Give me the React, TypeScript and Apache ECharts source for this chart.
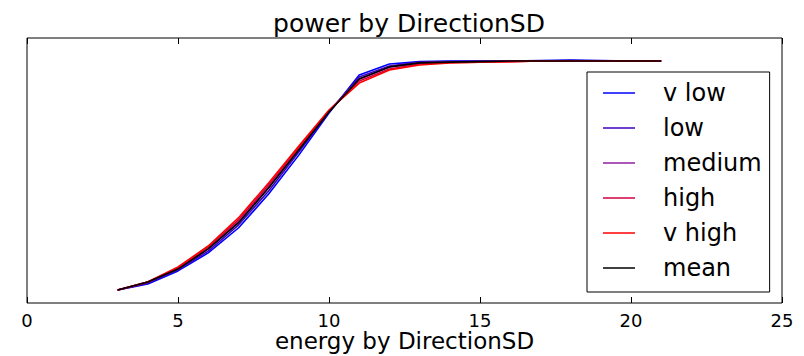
import React, { useEffect, useRef } from "react";
import * as echarts from "echarts";

const xValues = [3, 4, 5, 6, 7, 8, 9, 10, 11, 12, 13, 14, 15, 16, 17, 18, 19, 20, 21];
const seriesNames = ["v low", "low", "medium", "high", "v high", "mean"];
const seriesColors = ["#0000ff", "#3f00c0", "#9020a0", "#d00040", "#ff0000", "#000000"];

const vLow = [0.049, 0.072, 0.121, 0.189, 0.283, 0.411, 0.558, 0.717, 0.86, 0.902, 0.911, 0.913, 0.913, 0.913, 0.915, 0.917, 0.915, 0.913, 0.913];
const low = [0.049, 0.075, 0.125, 0.196, 0.294, 0.423, 0.57, 0.721, 0.853, 0.894, 0.909, 0.911, 0.913, 0.913, 0.913, 0.915, 0.913, 0.913, 0.913];
const medium = [0.049, 0.079, 0.128, 0.204, 0.306, 0.438, 0.581, 0.725, 0.845, 0.891, 0.906, 0.909, 0.911, 0.913, 0.913, 0.913, 0.913, 0.913, 0.913];
const high = [0.049, 0.079, 0.132, 0.211, 0.313, 0.445, 0.585, 0.725, 0.838, 0.883, 0.902, 0.908, 0.909, 0.911, 0.913, 0.913, 0.913, 0.913, 0.913];
const vHigh = [0.049, 0.079, 0.136, 0.215, 0.321, 0.453, 0.592, 0.728, 0.83, 0.879, 0.898, 0.906, 0.909, 0.911, 0.913, 0.913, 0.913, 0.913, 0.913];
const mean = [0.049, 0.079, 0.128, 0.204, 0.302, 0.434, 0.577, 0.721, 0.845, 0.891, 0.906, 0.909, 0.911, 0.913, 0.913, 0.913, 0.913, 0.913, 0.913];

const allValues = [vLow, low, medium, high, vHigh, mean];
const xTicks = { min: 0, max: 25, interval: 5 };

const FONT = "DejaVu Sans";
const LINE_ICON = "path://M0,0 L32,0 L32,1.5 L0,1.5 Z";

export default function App() {
  const ref = useRef<HTMLDivElement>(null);
  useEffect(() => {
    if (!ref.current) return;
    const chart = echarts.init(ref.current, undefined, { renderer: "svg" });
    const series = seriesNames.map((name, i) => ({
      name,
      type: "line",
      data: xValues.map((x, j) => [x, allValues[i][j]]),
      symbol: "none",
      showSymbol: false,
      lineStyle: { color: seriesColors[i], width: 1.6 },
      itemStyle: { color: seriesColors[i] },
      z: 2 + i,
    }));
    chart.setOption({
      animation: false,
      backgroundColor: "#ffffff",
      textStyle: { fontFamily: FONT },
      title: {
        text: "power by DirectionSD",
        left: 404,
        top: 6,
        textAlign: "center",
        textStyle: { fontFamily: FONT, fontSize: 25, fontWeight: "normal", color: "#000" },
      },
      grid: {
        left: 27,
        right: 22,
        top: 38,
        bottom: 53,
        show: true,
        borderColor: "#000",
        borderWidth: 1,
        backgroundColor: "transparent",
        containLabel: false,
        outerBoundsMode: "none",
      },
      legend: {
        orient: "vertical",
        left: 587,
        top: 72,
        data: seriesNames.map((n) => ({ name: n, icon: LINE_ICON })),
        symbolKeepAspect: true,
        padding: [9, 8, 12, 16],
        itemGap: 11,
        itemWidth: 32,
        itemHeight: 24,
        borderColor: "#000",
        borderWidth: 1,
        backgroundColor: "#fff",
        borderRadius: 0,
        textStyle: {
          fontFamily: FONT,
          fontSize: 24,
          color: "#000",
          padding: [0, 0, 0, 23],
        },
      },
      xAxis: [
        {
          type: "value",
          min: xTicks.min,
          max: xTicks.max,
          interval: xTicks.interval,
          position: "bottom",
          name: "energy by DirectionSD",
          nameLocation: "middle",
          nameGap: 26,
          nameMoveOverlap: false,
          nameTextStyle: { fontFamily: FONT, fontSize: 23, color: "#000" },
          axisLine: { show: false },
          axisTick: { show: true, inside: true, length: 6, lineStyle: { color: "#000" } },
          axisLabel: { fontFamily: FONT, fontSize: 18, color: "#000", margin: 8 },
          splitLine: { show: false },
        },
        {
          type: "value",
          min: xTicks.min,
          max: xTicks.max,
          interval: xTicks.interval,
          position: "top",
          axisLine: { show: false },
          axisTick: { show: true, inside: true, length: 6, lineStyle: { color: "#000" } },
          axisLabel: { show: false },
          splitLine: { show: false },
        },
      ],
      yAxis: {
        type: "value",
        min: 0,
        max: 1,
        axisLine: { show: false },
        axisTick: { show: false },
        axisLabel: { show: false },
        splitLine: { show: false },
      },
      series,
    });
    return () => chart.dispose();
  }, []);
  return (
    <div
      ref={ref}
      style={{ position: "fixed", left: 0, top: 0, width: 804, height: 356, background: "#fff" }}
    />
  );
}
